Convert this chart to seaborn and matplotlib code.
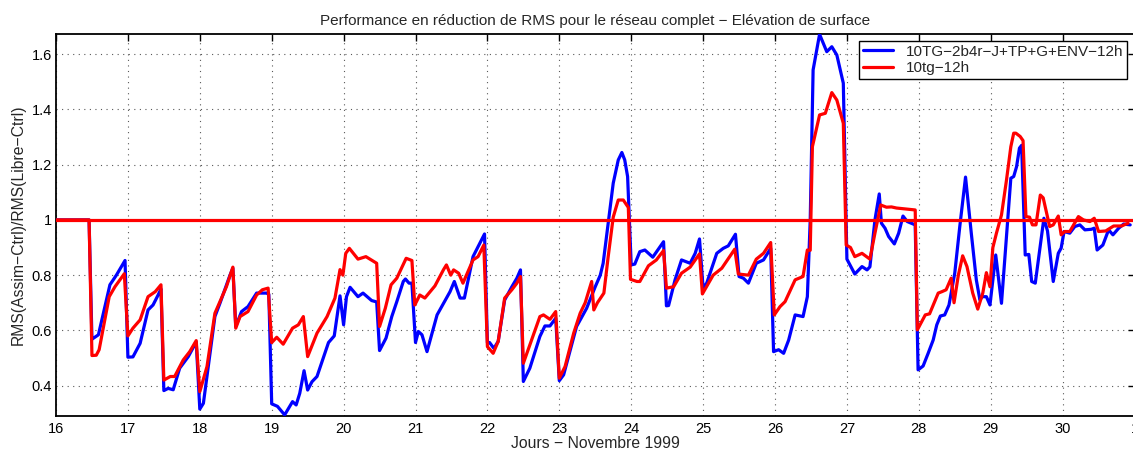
import numpy as np
import pandas as pd
import matplotlib
matplotlib.use("Agg")
import matplotlib.pyplot as plt
import seaborn as sns

# Days of November 1999 (fractional) and RMS ratio for each experiment
days_env = [16.00, 16.46, 16.50, 16.59, 16.75, 16.84, 16.96, 17.00, 17.07, 17.17,
            17.28, 17.35, 17.42, 17.46, 17.50, 17.56, 17.63, 17.72, 17.84, 17.95,
            18.00, 18.05, 18.21, 18.28, 18.42, 18.46, 18.50, 18.58, 18.67, 18.79,
            18.93, 18.96, 19.00, 19.08, 19.18, 19.29, 19.34, 19.39, 19.45, 19.50,
            19.56, 19.63, 19.79, 19.87, 19.95, 20.00, 20.04, 20.09, 20.20, 20.27,
            20.39, 20.46, 20.50, 20.59, 20.67, 20.74, 20.83, 20.86, 20.91, 20.95,
            21.00, 21.04, 21.09, 21.16, 21.30, 21.48, 21.54, 21.62, 21.68, 21.80,
            21.87, 21.96, 22.00, 22.03, 22.09, 22.15, 22.24, 22.34, 22.41, 22.46,
            22.50, 22.59, 22.73, 22.80, 22.87, 22.95, 23.00, 23.06, 23.24, 23.38,
            23.50, 23.57, 23.61, 23.68, 23.75, 23.82, 23.87, 23.91, 23.95, 24.00,
            24.05, 24.12, 24.19, 24.30, 24.37, 24.45, 24.49, 24.52, 24.61, 24.70,
            24.82, 24.89, 24.95, 25.00, 25.05, 25.19, 25.28, 25.35, 25.45, 25.50,
            25.56, 25.63, 25.74, 25.84, 25.94, 25.98, 26.05, 26.12, 26.19, 26.28,
            26.39, 26.45, 26.49, 26.53, 26.62, 26.72, 26.79, 26.86, 26.95, 27.00,
            27.11, 27.21, 27.28, 27.32, 27.39, 27.45, 27.48, 27.53, 27.58, 27.66,
            27.72, 27.78, 27.84, 27.95, 27.99, 28.06, 28.13, 28.20, 28.25, 28.30,
            28.36, 28.42, 28.50, 28.57, 28.65, 28.73, 28.80, 28.85, 28.88, 28.94,
            28.99, 29.07, 29.15, 29.22, 29.28, 29.32, 29.36, 29.40, 29.43, 29.48,
            29.53, 29.57, 29.62, 29.74, 29.79, 29.87, 29.94, 29.98, 30.02, 30.10,
            30.17, 30.24, 30.31, 30.40, 30.44, 30.48, 30.56, 30.64, 30.70, 30.78,
            30.85, 30.94]
rms_env = [1.000, 1.000, 0.568, 0.584, 0.765, 0.800, 0.853, 0.503, 0.504, 0.553,
           0.674, 0.692, 0.728, 0.750, 0.382, 0.390, 0.385, 0.463, 0.505, 0.558,
           0.315, 0.336, 0.650, 0.698, 0.800, 0.825, 0.614, 0.668, 0.686, 0.735,
           0.735, 0.730, 0.334, 0.325, 0.294, 0.342, 0.330, 0.372, 0.454, 0.384,
           0.414, 0.433, 0.556, 0.580, 0.725, 0.620, 0.722, 0.756, 0.722, 0.735,
           0.708, 0.703, 0.527, 0.572, 0.650, 0.704, 0.777, 0.786, 0.771, 0.771,
           0.556, 0.596, 0.584, 0.523, 0.656, 0.740, 0.777, 0.717, 0.717, 0.867,
           0.903, 0.949, 0.556, 0.556, 0.535, 0.560, 0.710, 0.758, 0.789, 0.819,
           0.415, 0.463, 0.578, 0.616, 0.616, 0.644, 0.418, 0.439, 0.614, 0.680,
           0.758, 0.800, 0.843, 0.988, 1.133, 1.217, 1.244, 1.217, 1.157, 0.837,
           0.840, 0.885, 0.891, 0.865, 0.891, 0.921, 0.689, 0.690, 0.783, 0.855,
           0.843, 0.879, 0.931, 0.753, 0.771, 0.879, 0.897, 0.906, 0.948, 0.795,
           0.789, 0.771, 0.843, 0.855, 0.897, 0.523, 0.530, 0.517, 0.565, 0.656,
           0.650, 0.722, 1.000, 1.543, 1.672, 1.609, 1.627, 1.597, 1.495, 0.858,
           0.804, 0.831, 0.819, 0.830, 1.000, 1.094, 0.988, 0.970, 0.940, 0.913,
           0.952, 1.014, 0.994, 0.982, 0.457, 0.471, 0.517, 0.565, 0.620, 0.652,
           0.656, 0.692, 0.807, 0.976, 1.155, 0.952, 0.783, 0.710, 0.722, 0.722,
           0.692, 0.873, 0.698, 0.940, 1.151, 1.157, 1.193, 1.260, 1.270, 0.873,
           0.875, 0.777, 0.771, 1.006, 0.960, 0.777, 0.879, 0.898, 0.958, 0.952,
           0.976, 0.982, 0.964, 0.966, 0.970, 0.891, 0.909, 0.964, 0.946, 0.970,
           0.985, 0.982]

days_tg = [16.00, 16.46, 16.50, 16.56, 16.60, 16.74, 16.82, 16.95, 17.00, 17.07,
           17.17, 17.28, 17.38, 17.46, 17.50, 17.59, 17.65, 17.77, 17.86, 17.95,
           18.00, 18.10, 18.21, 18.28, 18.37, 18.46, 18.50, 18.56, 18.67, 18.79,
           18.87, 18.95, 19.00, 19.07, 19.16, 19.29, 19.37, 19.44, 19.50, 19.63,
           19.77, 19.88, 19.95, 19.99, 20.03, 20.08, 20.20, 20.31, 20.46, 20.50,
           20.58, 20.66, 20.74, 20.87, 20.95, 20.99, 21.06, 21.13, 21.27, 21.39,
           21.43, 21.49, 21.53, 21.60, 21.66, 21.72, 21.80, 21.87, 21.95, 22.00,
           22.08, 22.15, 22.24, 22.34, 22.41, 22.46, 22.50, 22.59, 22.73, 22.78,
           22.87, 22.95, 23.00, 23.08, 23.20, 23.29, 23.36, 23.45, 23.48, 23.53,
           23.62, 23.68, 23.75, 23.82, 23.89, 23.96, 23.99, 24.08, 24.12, 24.24,
           24.35, 24.45, 24.49, 24.59, 24.70, 24.82, 24.95, 24.99, 25.14, 25.26,
           25.44, 25.49, 25.63, 25.74, 25.84, 25.94, 25.99, 26.07, 26.14, 26.28,
           26.39, 26.45, 26.49, 26.52, 26.62, 26.70, 26.79, 26.86, 26.95, 26.99,
           27.05, 27.11, 27.21, 27.32, 27.39, 27.47, 27.55, 27.62, 27.69, 27.95,
           27.98, 28.09, 28.15, 28.27, 28.32, 28.38, 28.45, 28.49, 28.55, 28.61,
           28.67, 28.75, 28.82, 28.89, 28.94, 28.99, 29.03, 29.08, 29.15, 29.22,
           29.28, 29.32, 29.35, 29.41, 29.45, 29.49, 29.54, 29.58, 29.63, 29.69,
           29.73, 29.82, 29.87, 29.94, 29.98, 30.03, 30.10, 30.22, 30.29, 30.38,
           30.44, 30.50, 30.60, 30.71, 30.82, 30.91]
rms_tg = [1.000, 1.000, 0.509, 0.510, 0.530, 0.722, 0.758, 0.805, 0.580, 0.608,
          0.638, 0.722, 0.740, 0.765, 0.420, 0.433, 0.433, 0.493, 0.523, 0.563,
          0.378, 0.469, 0.662, 0.704, 0.758, 0.829, 0.608, 0.650, 0.668, 0.728,
          0.747, 0.753, 0.556, 0.575, 0.550, 0.608, 0.620, 0.650, 0.505, 0.590,
          0.650, 0.717, 0.820, 0.800, 0.879, 0.897, 0.858, 0.867, 0.843, 0.614,
          0.680, 0.765, 0.789, 0.861, 0.853, 0.692, 0.728, 0.717, 0.761, 0.820,
          0.837, 0.800, 0.819, 0.807, 0.771, 0.807, 0.855, 0.867, 0.909, 0.541,
          0.517, 0.560, 0.717, 0.747, 0.771, 0.795, 0.481, 0.547, 0.650, 0.656,
          0.640, 0.668, 0.427, 0.469, 0.590, 0.662, 0.700, 0.777, 0.674, 0.700,
          0.735, 0.867, 1.010, 1.072, 1.072, 1.045, 0.785, 0.777, 0.777, 0.834,
          0.855, 0.889, 0.753, 0.758, 0.807, 0.829, 0.877, 0.732, 0.800, 0.825,
          0.894, 0.804, 0.800, 0.858, 0.879, 0.918, 0.656, 0.686, 0.704, 0.783,
          0.795, 0.891, 0.890, 1.265, 1.380, 1.386, 1.461, 1.434, 1.350, 0.909,
          0.900, 0.867, 0.879, 0.858, 0.952, 1.054, 1.046, 1.047, 1.043, 1.036,
          0.602, 0.656, 0.660, 0.735, 0.740, 0.747, 0.789, 0.700, 0.800, 0.870,
          0.831, 0.735, 0.677, 0.735, 0.809, 0.758, 0.900, 0.952, 1.018, 1.145,
          1.265, 1.314, 1.314, 1.302, 1.287, 1.012, 1.010, 0.982, 0.982, 1.090,
          1.080, 0.976, 0.982, 1.014, 0.946, 0.958, 0.958, 1.012, 1.000, 0.994,
          1.006, 0.958, 0.960, 0.978, 0.978, 0.988]

series_names = ["10TG\u22122b4r\u2212J+TP+G+ENV\u221212h", "10tg\u221212h"]
series_colors = ["#0000ff", "#ff0000"]
tick_days = list(range(16, 32))
tick_labels = [str(d) for d in range(16, 31)] + ["1"]
y_ticks = [0.4, 0.6, 0.8, 1.0, 1.2, 1.4, 1.6]
y_tick_labels = ["0.4", "0.6", "0.8", "1", "1.2", "1.4", "1.6"]

df = pd.concat([
    pd.DataFrame({"jour": days_env, "ratio": rms_env, "exp": series_names[0]}),
    pd.DataFrame({"jour": days_tg, "ratio": rms_tg, "exp": series_names[1]}),
], ignore_index=True)

sns.set_style("white")
plt.rcParams["font.family"] = ["Liberation Sans", "DejaVu Sans"]
plt.rcParams["axes.unicode_minus"] = True

W, H = 1133, 453
fig = plt.figure(figsize=(W / 100, H / 100), dpi=100)
ax = fig.add_axes([56 / W, 1 - 416 / H, 1078.5 / W, (416 - 34.3) / H])

sns.lineplot(data=df, x="jour", y="ratio", hue="exp", hue_order=series_names,
             palette=dict(zip(series_names, series_colors)), estimator=None,
             sort=False, linewidth=2.3, ax=ax, zorder=3)
ax.axhline(1.0, color="#ff0000", linewidth=2.3, zorder=4)

ax.set_xlim(16, 31)
ax.set_ylim(0.29, 1.672)
ax.set_xticks(tick_days)
ax.set_xticklabels(tick_labels)
ax.set_yticks(y_ticks)
ax.set_yticklabels(y_tick_labels)
ax.tick_params(direction="in", length=5, width=1, top=True, right=True,
               labelsize=10.5, colors="black")
ax.tick_params(axis="x", pad=4)
ax.tick_params(axis="y", pad=3)
ax.grid(True, linestyle=(0, (1, 4)), color="0.35", linewidth=0.8)
for s in ax.spines.values():
    s.set_color("black")
    s.set_linewidth(1.3)

ax.set_title("Performance en réduction de RMS pour le réseau complet \u2212 Elévation de surface",
             fontsize=11, pad=7)
ax.set_xlabel("Jours \u2212 Novembre 1999", fontsize=11.3)
ax.set_ylabel("RMS(Assim\u2212Ctrl)/RMS(Libre\u2212Ctrl)", fontsize=11.3)
ax.xaxis.set_label_coords(0.5, -0.052)
ax.yaxis.set_label_coords(-0.028, 0.5)

leg = ax.legend(loc="upper right", bbox_to_anchor=(0.9928, 0.9824), borderaxespad=0,
                fontsize=11, frameon=True, fancybox=False, handlelength=2.0,
                handletextpad=0.8, borderpad=0.25, labelspacing=0.15)
leg.get_frame().set_edgecolor("black")
leg.get_frame().set_linewidth(1.0)
leg.get_frame().set_alpha(1)

fig.savefig("out.png", dpi=100)
